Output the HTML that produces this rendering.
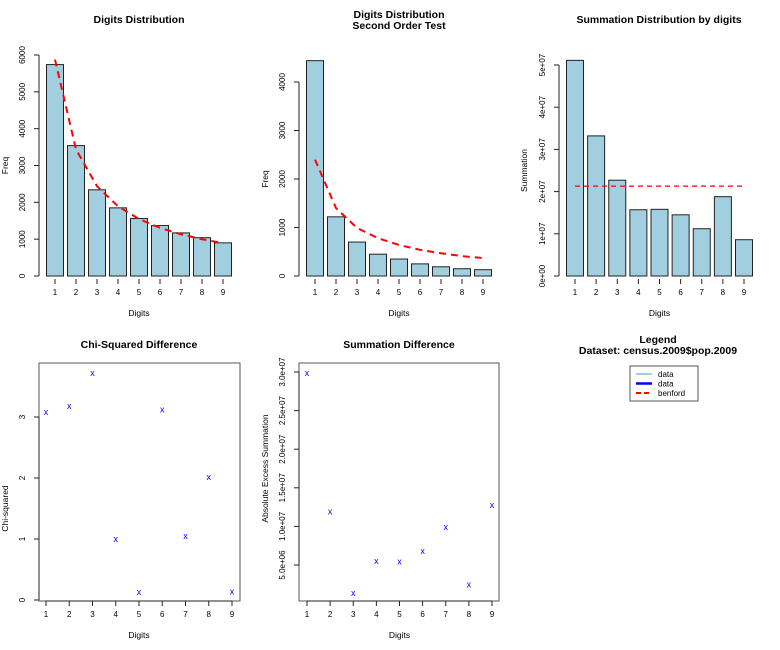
<!DOCTYPE html>
<html><head><meta charset="utf-8"><style>
body{margin:0;background:#fff;}
svg{display:block;font-family:"Liberation Sans",Arial,sans-serif;}
</style></head><body>
<svg id="c" width="780" height="650" viewBox="0 0 780 650"></svg>
<script>
const digits=[1,2,3,4,5,6,7,8,9];
const freq1=[5740,3540,2340,1850,1560,1370,1170,1040,900];
const benford1=[5876,3437,2439,1892,1546,1307,1132,998,893];
const freq2=[4440,1220,700,450,350,250,190,150,130];
const benford2=[2400,1400,990,780,640,540,470,410,370];
const summ=[5.11e7,3.32e7,2.27e7,1.57e7,1.58e7,1.45e7,1.12e7,1.88e7,0.86e7];
const summBenford=2.13e7;
const chisq=[3.08,3.18,3.72,1.0,0.13,3.12,1.05,2.02,0.14];
const absExcess=[2.99e7,1.19e7,1.37e6,5.5e6,5.45e6,6.8e6,9.9e6,2.5e6,1.28e7];
const ticks1=[0,1000,2000,3000,4000,5000,6000];
const ticks2=[0,1000,2000,3000,4000];
const ticks3=[0,1e7,2e7,3e7,4e7,5e7];
const ticks3Labels=["0e+00","1e+07","2e+07","3e+07","4e+07","5e+07"];
const ticks4=[0,1,2,3];
const ticks5=[5e6,1e7,1.5e7,2e7,2.5e7,3e7];
const ticks5Labels=["5.0e+06","1.0e+07","1.5e+07","2.0e+07","2.5e+07","3.0e+07"];

const S=document.getElementById('c');
const NS='http://www.w3.org/2000/svg';
function mk(tag,attrs,parent,text){const e=document.createElementNS(NS,tag);for(const k in attrs)e.setAttribute(k,attrs[k]);if(text!==undefined)e.textContent=text;(parent||S).appendChild(e);return e;}

function panel(cfg){
  const g=mk('g',{});
  
  
  const xs=d=>cfg.x1+(d-1)*(cfg.x9-cfg.x1)/8;
  const ys=v=>cfg.y0-(v-cfg.v0)*(cfg.y0-cfg.yT)/(cfg.vT-cfg.v0);
  cfg.title.forEach((t,i)=>{const e=mk('text',{x:cfg.tx,y:cfg.ty+i*11,'text-anchor':'middle','font-size':'10.5','font-weight':'bold'},g,t);
    });
  if(cfg.bars){
    cfg.bars.forEach((v,i)=>{const cx=xs(digits[i]);
      const r=mk('rect',{x:cx-8.5,y:ys(v),width:17,height:ys(cfg.v0)-ys(v),fill:'#a1cfe0',stroke:'#222','stroke-width':'1'},g);
      });
  }
  if(cfg.line){
    const pts=cfg.line.map((v,i)=>xs(digits[i])+','+ys(v)).join(' ');
    const l=mk('polyline',{points:pts,fill:'none',stroke:'#f00','stroke-width':'2','stroke-dasharray':'7,5'},g);
    
  }
  if(cfg.hline!==undefined){
    const l=mk('line',{x1:xs(1),x2:xs(9),y1:ys(cfg.hline),y2:ys(cfg.hline),stroke:'#f00','stroke-width':'1.2','stroke-dasharray':'5,4'},g);
    
  }
  if(cfg.points){
    cfg.points.forEach((v,i)=>{const p=mk('text',{x:xs(digits[i]),y:ys(v)+3,'text-anchor':'middle','font-size':'9',fill:'#00f'},g,'x');
      });
  }
  if(cfg.box){
    mk('rect',{x:cfg.box[0],y:cfg.box[1],width:cfg.box[2]-cfg.box[0],height:cfg.box[3]-cfg.box[1],fill:'none',stroke:'#555','stroke-width':'1'},g);
  }
  const ya=mk('g',{},g);
  const yt0=ys(cfg.yticks[0]),yt1=ys(cfg.yticks[cfg.yticks.length-1]);
  mk('line',{x1:cfg.ax,x2:cfg.ax,y1:yt0,y2:yt1,stroke:'#222'},ya);
  cfg.yticks.forEach((t,i)=>{const y=ys(t);mk('line',{x1:cfg.ax-5,x2:cfg.ax,y1:y,y2:y,stroke:'#222'},ya);
    mk('text',{x:cfg.ax-14,y:y,'text-anchor':'middle','font-size':'8',transform:`rotate(-90 ${cfg.ax-14} ${y})`},ya,cfg.ylabels?cfg.ylabels[i]:String(t));});
  const yl=mk('text',{x:cfg.ylx,y:(cfg.y0+yt1)/2,'text-anchor':'middle','font-size':'8.5',transform:`rotate(-90 ${cfg.ylx} ${(cfg.y0+yt1)/2})`},g,cfg.ylab);
  
  const xa=mk('g',{},g);
  if(cfg.box) mk('line',{x1:xs(1),x2:xs(9),y1:cfg.xay,y2:cfg.xay,stroke:'#222'},xa);
  digits.forEach(d=>{const x=xs(d);mk('line',{x1:x,x2:x,y1:cfg.xay,y2:cfg.xay+5,stroke:'#222'},xa);
    mk('text',{x:x,y:cfg.xay+16,'text-anchor':'middle','font-size':'8'},xa,String(d));});
  const xl=mk('text',{x:(xs(1)+xs(9))/2,y:cfg.xay+37,'text-anchor':'middle','font-size':'8.5'},g,'Digits');
  
}

panel({name:'digits-distribution',title:['Digits Distribution'],tx:139,ty:23,x1:55,x9:223,v0:0,vT:6000,y0:276,yT:55,bars:freq1,line:benford1,yticks:ticks1,ax:39,ylab:'Freq',ylx:8,xay:279});
panel({name:'second-order-test',title:['Digits Distribution','Second Order Test'],tx:399,ty:18,x1:315,x9:483,v0:0,vT:4000,y0:276,yT:82,bars:freq2,line:benford2,yticks:ticks2,ax:299,ylab:'Freq',ylx:268,xay:279});
panel({name:'summation-distribution',title:['Summation Distribution by digits'],tx:659,ty:23,x1:575,x9:744,v0:0,vT:5e7,y0:276,yT:65,bars:summ,hline:summBenford,yticks:ticks3,ylabels:ticks3Labels,ax:559,ylab:'Summation',ylx:527,xay:279});
panel({name:'chi-squared-difference',title:['Chi-Squared Difference'],tx:139,ty:348,x1:46,x9:232,v0:0,vT:3,y0:600,yT:417,points:chisq,yticks:ticks4,box:[39,363,240,601],ax:39,ylab:'Chi-squared',ylx:8,xay:601});
panel({name:'summation-difference',title:['Summation Difference'],tx:399,ty:348,x1:307,x9:492,v0:5e6,vT:3e7,y0:565,yT:372,points:absExcess,yticks:ticks5,ylabels:ticks5Labels,box:[299,363,499,601],ax:299,ylab:'Absolute Excess Summation',ylx:268,xay:601});

const lg=mk('g',{});
mk('text',{x:658,y:343,'text-anchor':'middle','font-size':'10.5','font-weight':'bold'},lg,'Legend');
mk('text',{x:658,y:354,'text-anchor':'middle','font-size':'10.5','font-weight':'bold'},lg,'Dataset: census.2009$pop.2009');
mk('rect',{x:630,y:366,width:68,height:35,fill:'#fff',stroke:'#555'},lg);
const entries=[['data','#a1cfe0','none',2],['data','#00f','none',2.5],['benford','#f00','5,3',2]];
entries.forEach((e,i)=>{const y=374+i*9.5;const eg=mk('g',{},lg);
  
  mk('line',{x1:636,x2:652,y1:y,y2:y,stroke:e[1],'stroke-width':e[3],'stroke-dasharray':e[2]},eg);
  mk('text',{x:658,y:y+3,'font-size':'8'},eg,e[0]);});
</script>
</body></html>
